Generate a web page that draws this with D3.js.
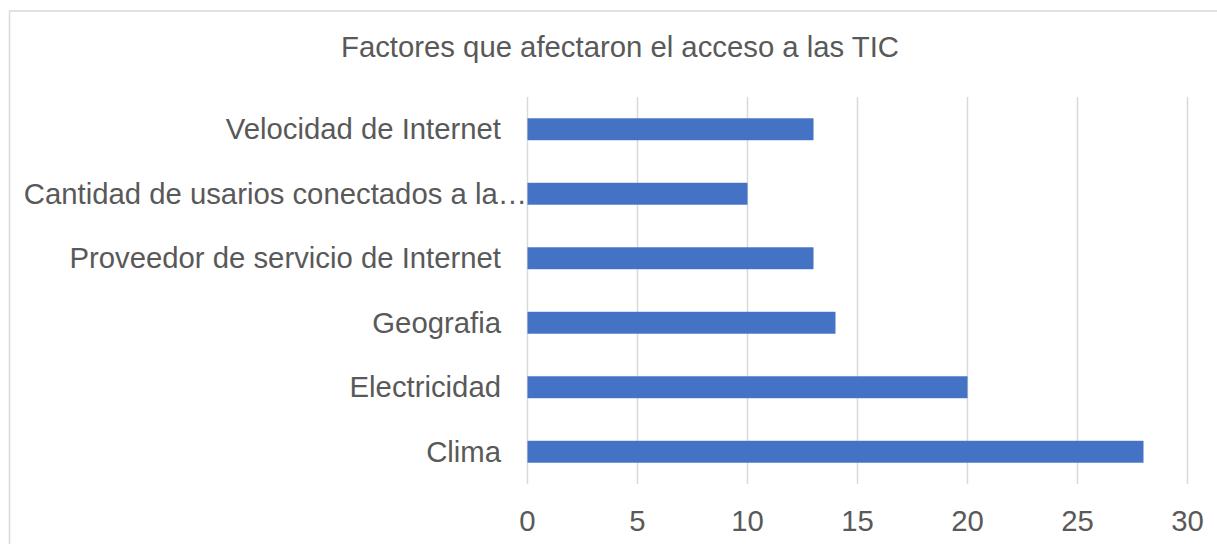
<!DOCTYPE html>
<html>
<head>
<meta charset="utf-8">
<script src="https://cdn.jsdelivr.net/npm/d3@7"></script>
<style>
  body { margin: 0; background: #fff; }
  text { font-family: "Liberation Sans", Arial, sans-serif; fill: #595959; }
</style>
</head>
<body>
<div class="chart"></div>
<script>
var categories = ["Velocidad de Internet", "Cantidad de usarios conectados a la…", "Proveedor de servicio de Internet", "Geografia", "Electricidad", "Clima"];
var values = [13, 10, 13, 14, 20, 28];
var ticks = [0, 5, 10, 15, 20, 25, 30];
var title = "Factores que afectaron el acceso a las TIC";

var width = 1217,
	height = 544;

var svg = d3.select(".chart").append("svg")
	.attr("width", width)
	.attr("height", height);

// chart area border
svg.append("rect")
	.attr("x", 9.5)
	.attr("y", 11)
	.attr("width", width + 10)
	.attr("height", height + 10)
	.style("fill", "none")
	.style("stroke", "#d9d9d9")
	.style("stroke-width", 1.5);

svg.append("text")
	.attr("x", 620)
	.attr("y", 57)
	.attr("text-anchor", "middle")
	.style("font-size", "29.3px")
	.text(title);

var x = d3.scaleLinear()
	.domain([0, 30])
	.range([527.5, 1187.5]);

var y = d3.scaleBand()
	.domain(categories)
	.range([97, 484])
	.paddingInner(0.66)
	.paddingOuter(0.33);

// gridlines
svg.append("g").selectAll("line")
	.data(ticks)
	.enter().append("line")
	.attr("x1", function(d) { return x(d); })
	.attr("x2", function(d) { return x(d); })
	.attr("y1", 97)
	.attr("y2", 484)
	.style("stroke", "#d9d9d9")
	.style("stroke-width", 1.5);

svg.append("g").selectAll("rect")
	.data(values)
	.enter().append("rect")
	.attr("x", x(0))
	.attr("y", function(d, i) { return y(categories[i]); })
	.attr("width", function(d) { return x(d) - x(0); })
	.attr("height", y.bandwidth())
	.style("fill", "#4472c4");

// category labels (the truncated one runs up to the axis, like excel does)
svg.append("g").selectAll("text")
	.data(categories)
	.enter().append("text")
	.attr("x", function(d) { return d.slice(-1) === "…" ? 527 : 501; })
	.attr("y", function(d) { return y(d) + y.bandwidth() / 2 + 10; })
	.attr("text-anchor", "end")
	.style("font-size", "29.3px")
	.text(function(d) { return d; });

// tick labels
svg.append("g").selectAll("text")
	.data(ticks)
	.enter().append("text")
	.attr("x", function(d) { return x(d); })
	.attr("y", 531)
	.attr("text-anchor", "middle")
	.style("font-size", "29.3px")
	.text(function(d) { return d; });
</script>
</body>
</html>
